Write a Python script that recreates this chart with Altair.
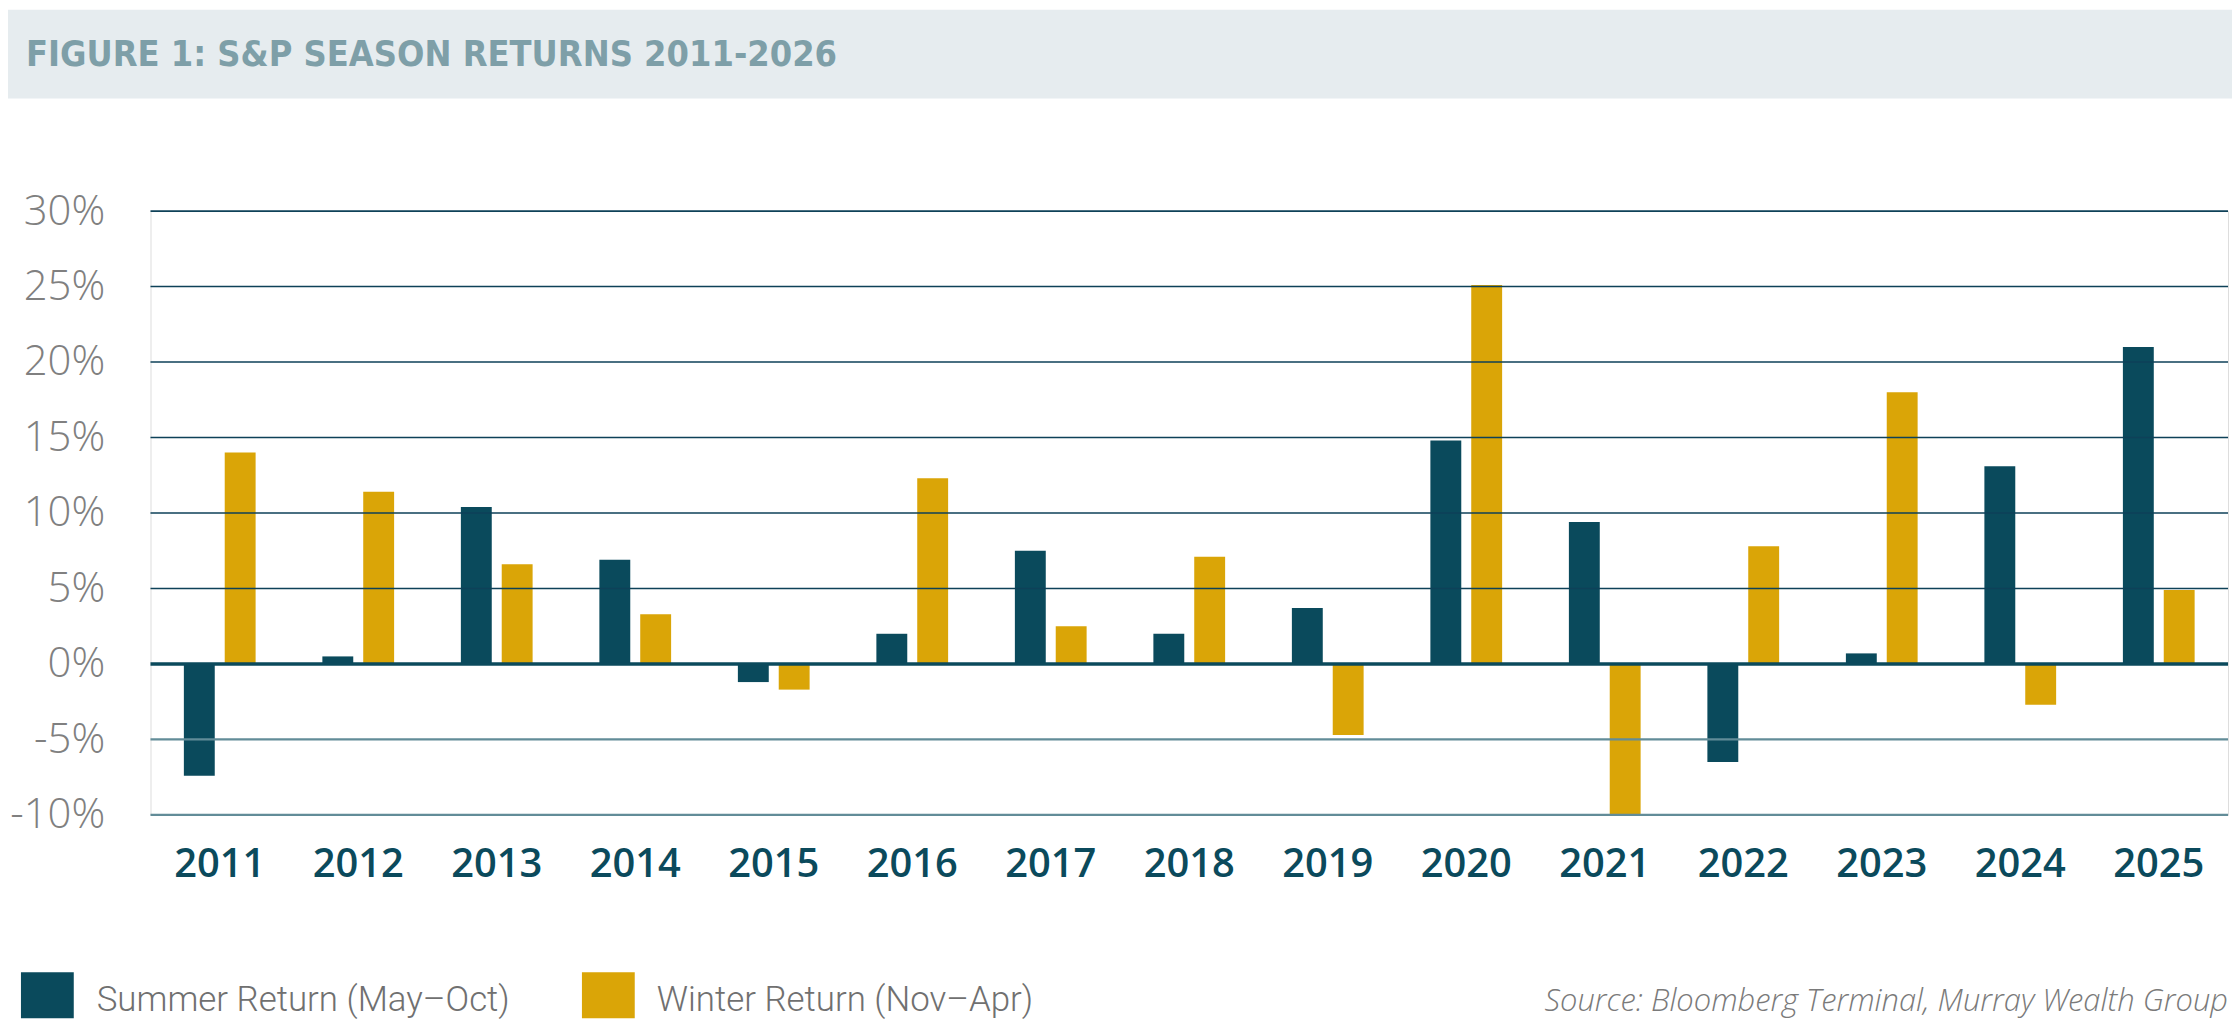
import altair as alt
import pandas as pd

years = [str(y) for y in range(2011, 2026)]
summer = [-7.4, 0.5, 10.4, 6.9, -1.2, 2.0, 7.5, 2.0, 3.7, 14.8, 9.4, -6.5, 0.7, 13.1, 21.0]
winter = [14.0, 11.4, 6.6, 3.3, -1.7, 12.3, 2.5, 7.1, -4.7, 25.1, -10.0, 7.8, 18.0, -2.7, 4.9]
series = ["Summer Return (May–Oct)", "Winter Return (Nov–Apr)"]
colors = ["#0A4A5C", "#DAA507"]
ticks = [-10, -5, 0, 5, 10, 15, 20, 25, 30]
title_text = "FIGURE 1: S&P SEASON RETURNS 2011-2026"
source_text = "Source: Bloomberg Terminal, Murray Wealth Group"

rows = []
for i, yr in enumerate(years):
    rows.append({"year": yr, "series": series[0], "value": summer[i]})
    rows.append({"year": yr, "series": series[1], "value": winter[i]})
df = pd.DataFrame(rows)

W, H = 2085, 606
one = alt.Data(values=[{"a": 1}])

band = alt.Chart(one).mark_rect(color="#E6ECEF").encode(
    x=alt.value(-143), x2=alt.value(2095), y=alt.value(-202), y2=alt.value(-113)
)

bars = alt.Chart(df).mark_bar().encode(
    x=alt.X("year:N", sort=years, title=None,
            scale=alt.Scale(paddingInner=0.482, paddingOuter=0.241),
            axis=alt.Axis(labelFont="Open Sans", labelFontWeight=600, labelFontSize=40,
                          labelColor="#0B4A5C", labelPadding=50, labelBaseline="middle",
                          ticks=False, tickSize=0, domain=False, labelAngle=0, grid=False)),
    xOffset=alt.XOffset("series:N", sort=series, scale=alt.Scale(paddingInner=0.244, paddingOuter=0)),
    y=alt.Y("value:Q", title=None, scale=alt.Scale(domain=[-10, 30], nice=False),
            axis=alt.Axis(values=ticks, labelExpr="datum.value + '%'", grid=False, ticks=False,
                          tickSize=0, domain=False, labelPadding=46, labelFontSize=42,
                          labelColor="#808080", labelFont="Open Sans", labelFontWeight=300)),
    color=alt.Color("series:N", scale=alt.Scale(domain=series, range=colors), legend=None),
)

pos_df = pd.DataFrame({"value": [t for t in ticks if t > 0]})
neg_df = pd.DataFrame({"value": [t for t in ticks if t < 0]})
zero_df = pd.DataFrame({"value": [0]})

rule_pos = alt.Chart(pos_df).mark_rule(color="#0E4158", strokeWidth=1.6).encode(
    y=alt.Y("value:Q", title=None))
rule_neg = alt.Chart(neg_df).mark_rule(color="#628C98", strokeWidth=2.2).encode(
    y=alt.Y("value:Q", title=None))
rule_zero = alt.Chart(zero_df).mark_rule(color="#0B4A5C", strokeWidth=3.5).encode(
    y=alt.Y("value:Q", title=None))

title = alt.Chart(one).mark_text(
    align="left", baseline="middle", font="DejaVu Sans Condensed, Roboto",
    fontWeight="bold", fontSize=36, color="#7E9FA8"
).encode(x=alt.value(-125), y=alt.value(-157), text=alt.value(title_text))

leg_rects = []
leg_texts = []
for i, (sx, tx) in enumerate([(-130, -54), (433, 508)]):
    leg_rects.append(alt.Chart(one).mark_rect(color=colors[i]).encode(
        x=alt.value(sx), x2=alt.value(sx + 53), y=alt.value(764), y2=alt.value(810)))
    leg_texts.append(alt.Chart(one).mark_text(
        align="left", baseline="middle", font="Roboto", fontWeight=300,
        fontSize=35, color="#707070"
    ).encode(x=alt.value(tx), y=alt.value(792), text=alt.value(series[i])))

source = alt.Chart(one).mark_text(
    align="right", baseline="middle", font="Open Sans", fontStyle="italic", fontWeight=300,
    fontSize=31, color="#7A7A7A"
).encode(x=alt.value(W), y=alt.value(794), text=alt.value(source_text))

chart = alt.layer(
    band, bars, rule_pos, rule_neg, rule_zero, title, *leg_rects, *leg_texts, source
).properties(
    width=W, height=H,
    autosize=alt.AutoSizeParams(type="none"),
    padding={"left": 143, "top": 202, "right": 4, "bottom": 204},
).configure_view(stroke=None).configure(background="white")

chart.save("out.html", embed_options={"renderer": "svg", "actions": False})
